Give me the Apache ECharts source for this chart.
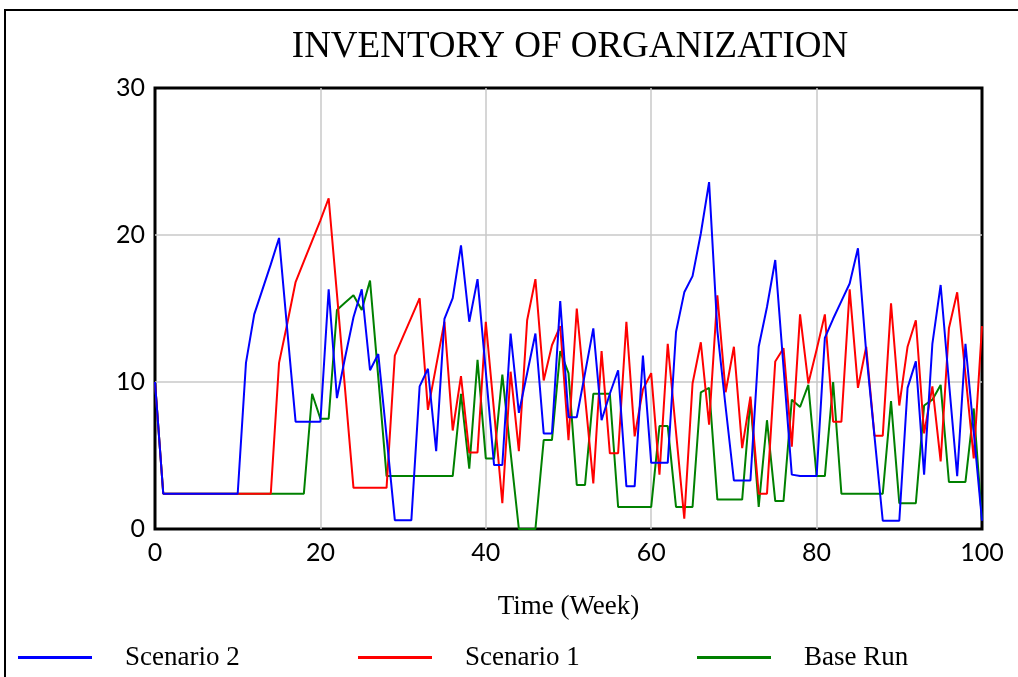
<!DOCTYPE html>
<html>
<head>
<meta charset="utf-8">
<script src="https://cdn.jsdelivr.net/npm/echarts@6/dist/echarts.min.js"></script>
<style>
  html, body { margin: 0; padding: 0; background: #fff; }
  #chart { width: 1018px; height: 677px; }
</style>
</head>
<body>
<div id="chart"></div>
<script>
// weeks 0..100, one value per week
var scenario2 = [10, 2.4, 2.4, 2.4, 2.4, 2.4, 2.4, 2.4, 2.4, 2.4,
    2.4, 11.3, 14.6, 16.3, 18.0, 19.8, 13.5, 7.3, 7.3, 7.3,
    7.3, 16.3, 8.9, 11.7, 14.4, 16.3, 10.8, 11.9, 6.3, 0.6,
    0.6, 0.6, 9.7, 10.9, 5.3, 14.3, 15.7, 19.3, 14.1, 17.0,
    10.7, 4.35, 4.35, 13.3, 7.9, 10.6, 13.3, 6.5, 6.5, 15.5,
    7.6, 7.6, 10.6, 13.65, 7.4, 9.2, 10.8, 2.9, 2.9, 11.8,
    4.5, 4.5, 4.5, 13.4, 16.1, 17.2, 20.1, 23.6, 13.5, 8.3,
    3.3, 3.3, 3.3, 12.4, 15.1, 18.3, 11.0, 3.7, 3.6, 3.6,
    3.6, 13.0, 14.3, 15.5, 16.7, 19.1, 12.0, 6.3, 0.56, 0.56,
    0.56, 9.6, 11.4, 3.7, 12.6, 16.6, 10.0, 3.6, 12.6, 6.6,
    0.56];
var scenario1 = [10, 2.4, 2.4, 2.4, 2.4, 2.4, 2.4, 2.4, 2.4, 2.4,
    2.4, 2.4, 2.4, 2.4, 2.4, 11.3, 14.0, 16.8, 18.2, 19.6,
    21.0, 22.5, 16.0, 9.4, 2.8, 2.8, 2.8, 2.8, 2.8, 11.8,
    13.1, 14.4, 15.7, 8.1, 11.1, 14.1, 6.7, 10.4, 5.2, 5.2,
    14.1, 8.0, 1.75, 10.7, 5.3, 14.2, 17.0, 10.1, 12.5, 13.8,
    6.05, 15.0, 9.0, 3.1, 12.1, 5.15, 5.15, 14.1, 6.3, 9.5,
    10.6, 3.7, 12.6, 6.6, 0.7, 9.9, 12.7, 7.1, 15.9, 9.3,
    12.4, 5.5, 9.0, 2.4, 2.4, 11.4, 12.3, 5.6, 14.6, 9.9,
    12.2, 14.6, 7.3, 7.3, 16.3, 9.6, 12.4, 6.35, 6.35, 15.35,
    8.4, 12.4, 14.2, 6.5, 9.7, 4.6, 13.65, 16.1, 10.5, 4.8,
    13.8];
var baseRun = [10, 2.4, 2.4, 2.4, 2.4, 2.4, 2.4, 2.4, 2.4, 2.4,
    2.4, 2.4, 2.4, 2.4, 2.4, 2.4, 2.4, 2.4, 2.4, 9.2,
    7.5, 7.5, 14.9, 15.4, 15.9, 14.9, 16.9, 10.3, 3.6, 3.6,
    3.6, 3.6, 3.6, 3.6, 3.6, 3.6, 3.6, 9.2, 4.1, 11.5,
    4.8, 4.8, 10.5, 5.2, 0, 0, 0, 6.05, 6.05, 12.1,
    10.6, 3.0, 3.0, 9.2, 9.2, 9.2, 1.5, 1.5, 1.5, 1.5,
    1.5, 7.0, 7.0, 1.5, 1.5, 1.5, 9.3, 9.6, 2.0, 2.0,
    2.0, 2.0, 8.8, 1.5, 7.4, 1.9, 1.9, 8.8, 8.3, 9.8,
    3.6, 3.6, 10.0, 2.4, 2.4, 2.4, 2.4, 2.4, 2.4, 8.7,
    1.75, 1.75, 1.75, 8.4, 8.8, 9.8, 3.2, 3.2, 3.2, 8.2,
    0.6];

function pairs(arr) {
    return arr.map(function (v, i) { return [i, v]; });
}

var serif = '"Liberation Serif", "DejaVu Serif", serif';
var sans = 'Lato, "Open Sans", sans-serif';

var chart = echarts.init(document.getElementById('chart'));
var option = {
    animation: false,
    backgroundColor: '#fff',
    title: {
        text: 'INVENTORY OF ORGANIZATION',
        left: 565,
        top: 24,
        textAlign: 'center',
        textStyle: { fontFamily: serif, fontWeight: 'normal', fontSize: 37, color: '#000' }
    },
    graphic: [{
        type: 'rect',
        shape: { x: 5, y: 10, width: 1100, height: 800 },
        style: { fill: 'none', stroke: '#000', lineWidth: 2 },
        silent: true
    }],
    legend: [
        { data: ['Scenario 2'], left: 18, top: 644 },
        { data: ['Scenario 1'], left: 358, top: 644 },
        { data: ['Base Run'], left: 697, top: 644 }
    ].map(function (l) {
        l.icon = 'rect';
        l.padding = 0;
        l.itemWidth = 74;
        l.itemHeight = 3;
        l.textStyle = { fontFamily: serif, fontSize: 27, color: '#000', padding: [0, 0, 0, 28] };
        return l;
    }),
    grid: {
        left: 155, top: 88, right: 36, bottom: 148,
        show: true, borderColor: '#000', borderWidth: 3
    },
    xAxis: {
        type: 'value',
        min: 0, max: 100, interval: 20,
        name: 'Time (Week)',
        nameLocation: 'middle',
        nameGap: 64,
        nameTextStyle: { fontFamily: serif, fontSize: 27, color: '#000' },
        axisLine: { show: false },
        axisTick: { show: false },
        axisLabel: { fontFamily: sans, fontSize: 25, color: '#000', margin: 11 },
        splitLine: { showMinLine: false, showMaxLine: false, lineStyle: { color: '#c8c8c8', width: 1.5 } }
    },
    yAxis: {
        type: 'value',
        min: 0, max: 30, interval: 10,
        axisLine: { show: false },
        axisTick: { show: false },
        axisLabel: { fontFamily: sans, fontSize: 25, color: '#000', margin: 10 },
        splitLine: { showMinLine: false, showMaxLine: false, lineStyle: { color: '#c8c8c8', width: 1.5 } }
    },
    series: [
        { name: 'Base Run', type: 'line', data: pairs(baseRun), symbol: 'none',
          color: '#008000', lineStyle: { width: 2 } },
        { name: 'Scenario 1', type: 'line', data: pairs(scenario1), symbol: 'none',
          color: '#ff0000', lineStyle: { width: 2 } },
        { name: 'Scenario 2', type: 'line', data: pairs(scenario2), symbol: 'none',
          color: '#0000ff', lineStyle: { width: 2 } }
    ]
};
chart.setOption(option);
</script>
</body>
</html>
